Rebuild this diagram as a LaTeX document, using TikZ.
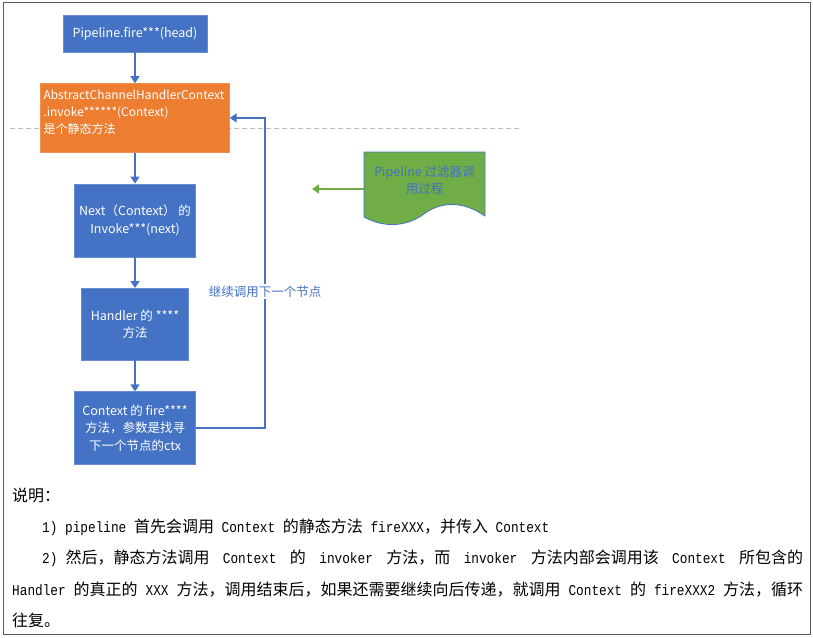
\documentclass[tikz,border=0pt]{standalone}
\usepackage{fontspec}
\setmainfont{Noto Sans CJK SC}
\newfontfamily\monofam[FakeStretch=0.85]{Liberation Mono}
\usepackage{xcolor}
\usetikzlibrary{arrows.meta,positioning}
\definecolor{boxblue}{HTML}{4472C4}
\definecolor{boxorange}{HTML}{ED7D31}
\definecolor{notegreen}{HTML}{70AD47}
\newcommand{\en}[1]{{\fontsize{15}{31}\monofam #1}}

\begin{document}
\begin{tikzpicture}[x=1pt, y=-1pt,
    blk/.style={rectangle, fill=boxblue, draw=boxblue!80!white, text=white, inner sep=2pt, align=center, font=\fontsize{12.5}{17.5}\selectfont},
    absbox/.style={rectangle, fill=boxorange, draw=boxorange!85!white, text=white, inner xsep=3pt, text width=183pt, align=left, minimum width=189pt, minimum height=69pt, font=\fontsize{12}{17}\selectfont},
    flow/.style={draw=boxblue, line width=1.6pt, -{Triangle[width=9pt,length=7pt]}},
    greenflow/.style={draw=notegreen, line width=1.6pt, -{Triangle[width=9pt,length=7pt]}},
    para/.style={anchor=west, inner sep=0pt, font=\fontsize{16}{31}\selectfont},
    node distance=31pt
    ]
    \useasboundingbox (0,0) rectangle (813,637);
    \draw[black!65, line width=0.8pt] (3,2) rectangle (810,634);
    \draw[black!25, line width=0.8pt, dash pattern=on 5pt off 3pt] (10,128) -- (522,128);

    \node[blk, minimum width=144pt, minimum height=37pt] (fire) at (135,33.5) {Pipeline.fire***(head)};
    \node[absbox, below=of fire] (abs) {AbstractChannelHandlerContext\\.invoke******(Context)\\是个静态方法\\[-4pt]\mbox{}};
    \node[blk, minimum width=121pt, minimum height=73pt, below=of abs] (next) {Next（Context） 的\\Invoke***(next)};
    \node[blk, minimum width=107pt, minimum height=72pt, below=of next] (handler) {Handler 的 ****\\方法};
    \node[blk, minimum width=121pt, minimum height=73pt, below=of handler] (ctx) {Context 的 fire****\\方法，参数是找寻\\下一个节点的ctx};

    \draw[flow] (fire) -- (abs);
    \draw[flow] (abs) -- (next);
    \draw[flow] (next) -- (handler);
    \draw[flow] (handler) -- (ctx);
    \coordinate (turn) at (265,0);
    \draw[flow] (ctx.east) -| node[pos=0.72, fill=white, text=boxblue, inner sep=2pt, font=\fontsize{12.5}{15}\selectfont] (loop) {继续调用下一个节点} (turn |- abs.east) -- (abs.east);

    % document shape
    \fill[notegreen] (364,152) -- (485,152) -- (485,216) .. controls (462,200) and (440,202) .. (424,214) .. controls (406,227) and (384,228) .. (364,217) -- cycle;
    \draw[boxblue, line width=0.8pt] (364,152) -- (485,152) -- (485,216) .. controls (462,200) and (440,202) .. (424,214) .. controls (406,227) and (384,228) .. (364,217) -- cycle;
    \node[text=boxblue, align=center, minimum width=121pt, minimum height=56pt, inner sep=0pt, font=\fontsize{12.5}{17}\selectfont] (note) at (424.5,180) {Pipeline 过滤器调\\用过程};
    \coordinate (greentip) at (312,189);
    \draw[greenflow] ([yshift=-9pt]note.west) -- (greentip);

    % explanation text
    \node[para] (desc) at (12,495) {说明：};
    \node[para] (stepone) at (42,527) {\en{1) pipeline }首先会调用\en{ Context }的静态方法\en{ fireXXX}，并传入\en{ Context}};
    \node[para] (steptwo) at (42,558) {\makebox[761pt][s]{\en{2)}\hspace*{8pt}然后，静态方法调用 \en{Context} 的 \en{invoker} 方法，而 \en{invoker} 方法内部会调用该 \en{Context} 所包含的}};
    \node[para] (stepmore) at (12,590) {\makebox[791pt][s]{\en{Handler} 的真正的 \en{XXX} 方法，调用结束后，如果还需要继续向后传递，就调用 \en{Context} 的 \en{fireXXX2} 方法，循环}};
    \node[para] (stepend) at (12,620) {往复。};
\end{tikzpicture}
\end{document}
